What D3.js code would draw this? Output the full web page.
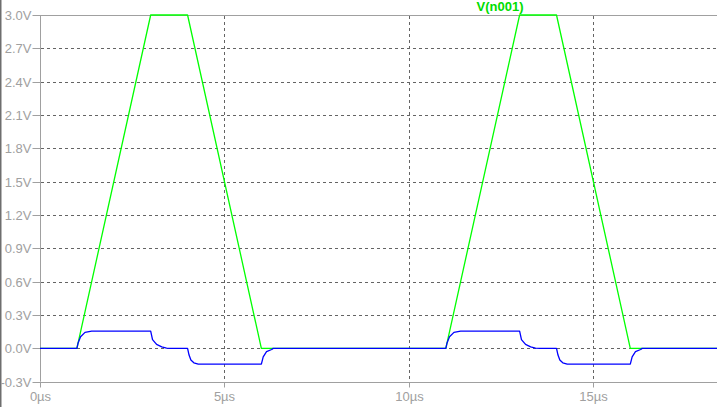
<!DOCTYPE html>
<html>
<head>
<meta charset="utf-8">
<script src="https://cdn.jsdelivr.net/npm/d3@7"></script>
<style>
  html, body { margin: 0; padding: 0; background: #ffffff; }
  svg { display: block; }
  text { font-family: "Liberation Sans", Arial, sans-serif; }
</style>
</head>
<body>
<div id="chart"></div>
<script>
// ---- data ----
const seriesName = "V(n001)";
const yTicks = [-0.3, 0.0, 0.3, 0.6, 0.9, 1.2, 1.5, 1.8, 2.1, 2.4, 2.7, 3.0];
const xTicks = [0, 5, 10, 15];
const xUnit = "µs";

// green trace: V(n001)  (time in µs, value in V)
const greenTime  = [0, 1, 3, 4, 6, 11, 13, 14, 16, 18.35];
const greenValue = [0, 0, 3, 3, 0, 0,  3,  3,  0,  0];

// blue trace (time in µs, value in V)
const blueTime = [
  0, 1.0, 1.03, 1.10, 1.22, 1.40, 3.0, 3.05, 3.16, 3.30, 3.43, 3.55,
  4.0, 4.04, 4.09, 4.17, 4.29, 6.0, 6.05, 6.14, 6.28, 6.32,
  11.0, 11.03, 11.10, 11.22, 11.40, 13.0, 13.05, 13.16, 13.30, 13.43, 13.55,
  14.0, 14.04, 14.09, 14.17, 14.29, 16.0, 16.05, 16.14, 16.28, 16.32, 18.35
];
const blueValue = [
  0, 0, 0.045, 0.104, 0.144, 0.155, 0.155, 0.078, 0.036, 0.014, 0.003, 0,
  0, -0.06, -0.105, -0.13, -0.142, -0.142, -0.076, -0.03, -0.01, 0,
  0, 0.045, 0.104, 0.144, 0.155, 0.155, 0.078, 0.036, 0.014, 0.003, 0,
  0, -0.06, -0.105, -0.13, -0.142, -0.142, -0.076, -0.03, -0.01, 0, 0
];

// ---- layout ----
const W = 717, H = 407;
const plotLeft = 40, plotRight = 717, plotTop = 15, plotBottom = 381.7;

const x = d3.scaleLinear().domain([0, 18.35]).range([plotLeft, plotRight]);
const y = d3.scaleLinear().domain([-0.3, 3.0]).range([plotBottom, plotTop]);

const svg = d3.select("#chart").append("svg")
  .attr("width", W).attr("height", H);

svg.append("rect").attr("width", W).attr("height", H).attr("fill", "#ffffff");

// left window border
svg.append("rect").attr("x", 0).attr("y", 0).attr("width", 1.5).attr("height", H)
  .attr("fill", "#6e6e6e");

const axisColor = "#a0a0a0";
const gridColor = "#646464";

// horizontal grid (dashed)
svg.append("g").selectAll("line")
  .data(yTicks.filter(d => d > -0.3 && d < 3.0))
  .join("line")
  .attr("x1", plotLeft + 1).attr("x2", plotRight)
  .attr("y1", d => Math.round(y(d)) + 0.5).attr("y2", d => Math.round(y(d)) + 0.5)
  .attr("stroke", gridColor).attr("stroke-width", 1)
  .attr("stroke-dasharray", "3,3");

// vertical grid (dashed)
svg.append("g").selectAll("line")
  .data(xTicks.filter(d => d > 0))
  .join("line")
  .attr("x1", d => Math.round(x(d)) + 0.5).attr("x2", d => Math.round(x(d)) + 0.5)
  .attr("y1", plotTop + 1).attr("y2", plotBottom)
  .attr("stroke", gridColor).attr("stroke-width", 1)
  .attr("stroke-dasharray", "3,3");

// frame lines: top, bottom, left
svg.append("line").attr("x1", plotLeft).attr("x2", plotRight)
  .attr("y1", Math.round(y(3.0)) + 0.5).attr("y2", Math.round(y(3.0)) + 0.5)
  .attr("stroke", axisColor);
svg.append("line").attr("x1", plotLeft).attr("x2", plotRight)
  .attr("y1", Math.round(y(-0.3)) + 0.5).attr("y2", Math.round(y(-0.3)) + 0.5)
  .attr("stroke", axisColor);
svg.append("line").attr("x1", plotLeft + 0.5).attr("x2", plotLeft + 0.5)
  .attr("y1", plotTop).attr("y2", plotBottom)
  .attr("stroke", axisColor);

// y axis
const yAxis = svg.append("g")
  .attr("transform", `translate(${plotLeft + 0.5},0)`)
  .call(d3.axisLeft(y).tickValues(yTicks).tickSize(8).tickPadding(1)
    .tickFormat(d => d.toFixed(1) + "V"));
yAxis.select(".domain").remove();
yAxis.selectAll(".tick line").attr("stroke", axisColor);
yAxis.selectAll(".tick").attr("transform", d => `translate(0,${Math.round(y(d)) + 0.5})`);
yAxis.selectAll("text").attr("fill", "#a0a0a0").attr("font-size", 13)
  .attr("font-family", "'Liberation Sans', Arial, sans-serif");

// x axis
const xAxis = svg.append("g")
  .attr("transform", `translate(0,${Math.round(y(-0.3)) + 0.5})`)
  .call(d3.axisBottom(x).tickValues(xTicks).tickSize(5).tickPadding(4)
    .tickFormat(d => d + xUnit));
xAxis.select(".domain").remove();
xAxis.selectAll(".tick line").attr("stroke", axisColor);
xAxis.selectAll(".tick").attr("transform", d => `translate(${Math.round(x(d)) + 0.5},0)`);
xAxis.selectAll("text").attr("fill", "#a0a0a0").attr("font-size", 13)
  .attr("font-family", "'Liberation Sans', Arial, sans-serif");

// traces
const line = d3.line().x(d => x(d[0])).y(d => y(d[1]));
const greenData = greenTime.map((t, i) => [t, greenValue[i]]);
const blueData = blueTime.map((t, i) => [t, blueValue[i]]);

svg.append("path").datum(greenData)
  .attr("d", line).attr("fill", "none")
  .attr("stroke", "#00ff00").attr("stroke-width", 1.3)
  .attr("stroke-linejoin", "round");

svg.append("path").datum(blueData)
  .attr("d", line).attr("fill", "none")
  .attr("stroke", "#0000ff").attr("stroke-width", 1.3)
  .attr("stroke-linejoin", "round");

// trace title
svg.append("text")
  .attr("x", 500).attr("y", 11)
  .attr("text-anchor", "middle")
  .attr("font-size", 13).attr("font-weight", "bold")
  .attr("fill", "#00dd00")
  .text(seriesName);
</script>
</body>
</html>
